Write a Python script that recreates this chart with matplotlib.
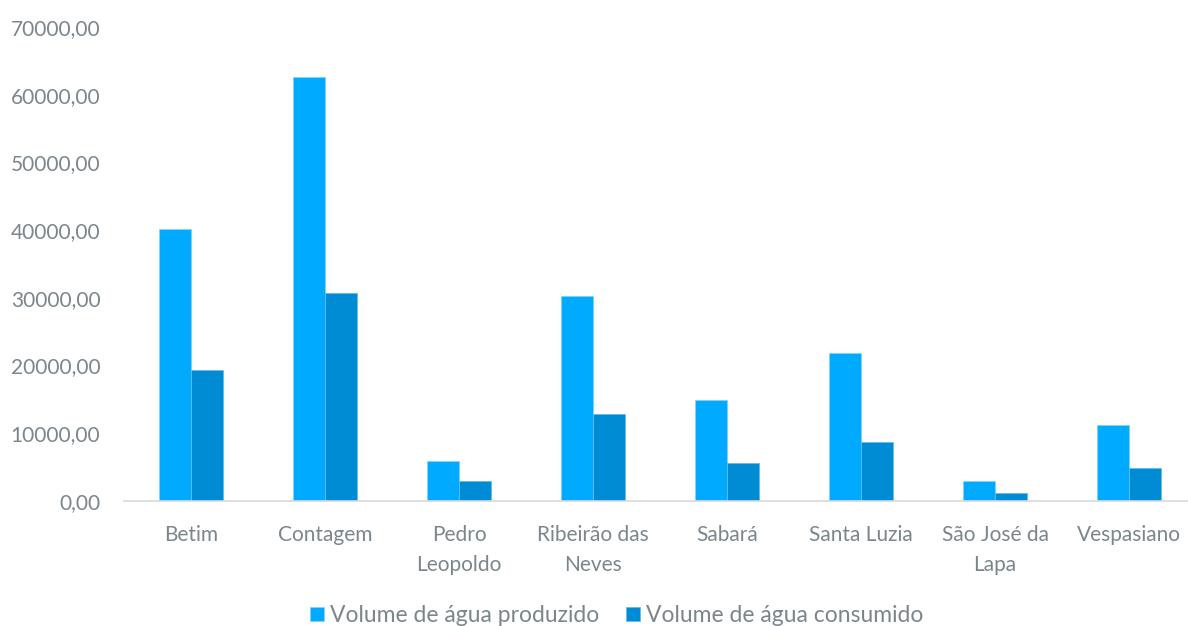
import matplotlib
matplotlib.use("Agg")
import matplotlib.pyplot as plt
import numpy as np
from matplotlib.ticker import FuncFormatter

municipios = ["Betim", "Contagem", "Pedro\nLeopoldo", "Ribeirão das\nNeves", "Sabará",
              "Santa Luzia", "São José da\nLapa", "Vespasiano"]
produzido = [40200, 62600, 5900, 30300, 14950, 21850, 2950, 11200]
consumido = [19350, 30700, 2950, 12850, 5600, 8700, 1150, 4850]

serie_nomes = ["Volume de água produzido", "Volume de água consumido"]
cores = ["#00AAFF", "#008CD4"]
texto = "#7B868C"

plt.rcParams["font.family"] = ["Lato", "DejaVu Sans"]

W, H = 1188, 626
fig = plt.figure(figsize=(W / 100, H / 100), dpi=100)
ax = fig.add_axes([124 / W, (H - 501) / H, 1072 / W, 474 / H])

x = np.arange(len(municipios))
bw = 0.239
ax.bar(x - bw / 2, produzido, bw, color=cores[0], edgecolor="#7FD4FF", linewidth=0.6,
       label=serie_nomes[0], zorder=2)
ax.bar(x + bw / 2, consumido, bw, color=cores[1], edgecolor="#66BAE6", linewidth=0.6,
       label=serie_nomes[1], zorder=2)

ax.set_xlim(-0.5, len(municipios) - 0.5)
ax.set_ylim(0, 70000)
ax.set_yticks(np.arange(0, 70001, 10000))
ax.yaxis.set_major_formatter(FuncFormatter(lambda v, p: f"{v:.2f}".replace(".", ",")))
ax.set_xticks(x)
ax.set_xticklabels(municipios, linespacing=1.65)

for s in ["top", "right", "left"]:
    ax.spines[s].set_visible(False)
ax.spines["bottom"].set_color("#D9D9D9")
ax.spines["bottom"].set_linewidth(1.2)
ax.tick_params(axis="both", length=0, colors=texto, labelsize=15)
ax.tick_params(axis="y", pad=17)
ax.tick_params(axis="x", pad=17)

leg = fig.legend(loc="lower center", bbox_to_anchor=(0.519, -0.033), ncol=2, frameon=False,
                 fontsize=16.5, handlelength=0.6, handleheight=0.6, handletextpad=0.25,
                 columnspacing=1.2)
for t in leg.get_texts():
    t.set_color(texto)

fig.savefig("out.png", dpi=100)
